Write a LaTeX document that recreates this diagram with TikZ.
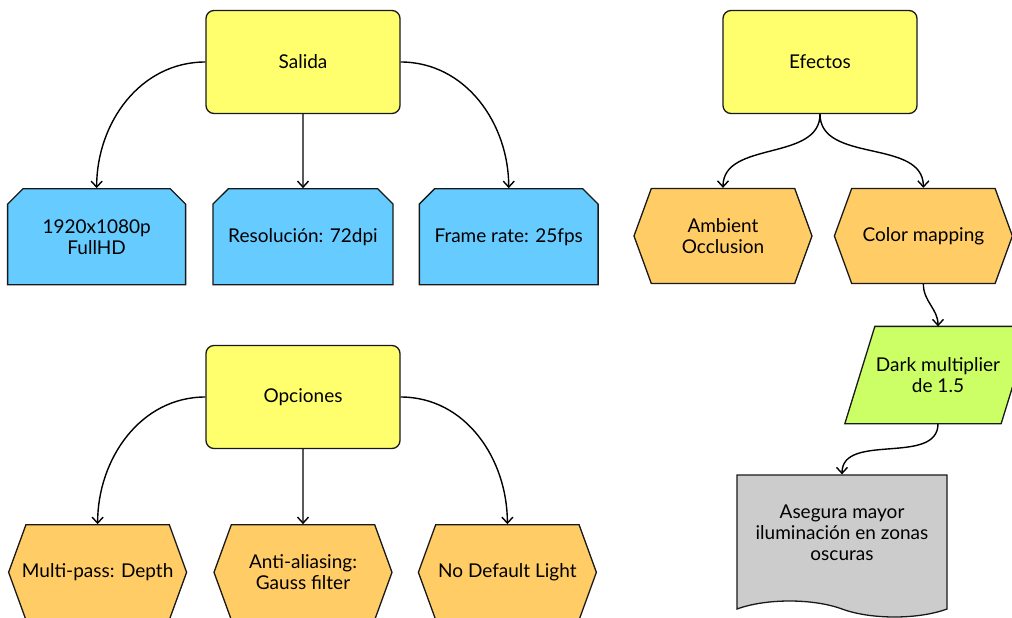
\documentclass[tikz,border=0pt]{standalone}
\usepackage{fontspec}
\setmainfont{Lato}
\usetikzlibrary{positioning,backgrounds,shapes.misc,shapes.symbols,arrows.meta}

\definecolor{rootyellow}{RGB}{255,255,110}
\definecolor{outblue}{RGB}{102,204,255}
\definecolor{optorange}{RGB}{255,204,102}
\definecolor{fxgreen}{RGB}{204,255,102}
\definecolor{docgray}{RGB}{204,204,204}

\begin{document}
\begin{tikzpicture}[x=1pt,y=1pt,->,>={Straight Barb[length=6pt,width=11pt,line width=1.4pt]},line width=1.4pt,
      every node/.style={font=\fontsize{19}{21}\selectfont,align=center,draw=black!90,line width=1.3pt},
      root node/.style={rectangle,rounded corners=8pt,fill=rootyellow,minimum width=194pt,minimum height=103pt},
      out node/.style={chamfered rectangle,chamfered rectangle corners={north west,north east},
        chamfered rectangle xsep=12pt,fill=outblue,minimum width=178pt,minimum height=96pt},
      opt node/.style={signal,signal to=west and east,signal pointer angle=140,inner xsep=-4pt,
        fill=optorange,minimum width=178pt,minimum height=95pt},
      fx node/.style={rectangle,draw=none,minimum width=155pt,minimum height=96pt},
      doc node/.style={tape,tape bend top=none,tape bend bottom=out and in,tape bend height=16pt,
        text depth=10pt,fill=docgray,minimum width=210pt,minimum height=142pt}]
      \useasboundingbox (0,0) rectangle (1012,-618);

      \node[root node] (salida) at (303,-62) {Salida};
      \node[out node] (resol) [below=74pt of salida] {Resolución: 72dpi};
      \node[out node] (fullhd) [left=26pt of resol] {1920x1080p\\FullHD};
      \node[out node] (fps) [right=25pt of resol] {Frame rate: 25fps};

      \node[root node] (opciones) at (303,-397) {Opciones};
      \node[opt node] (gauss) [below=75pt of opciones] {Anti-aliasing:\\Gauss filter};
      \node[opt node] (depth) [left=26pt of gauss] {Multi-pass: Depth};
      \node[opt node] (light) [right=25pt of gauss] {No Default Light};

      \node[root node] (efectos) at (820,-62) {Efectos};
      \node[opt node] (ambient) at (723,-236) {Ambient\\Occlusion};
      \node[opt node] (colormap) [right=21pt of ambient] {Color mapping};
      \node[fx node] (darkmult) at (938,-375) {Dark multiplier\\de 1.5};
      \node[doc node] (asegura) at (842,-538) {Asegura mayor\\iluminación en zonas\\oscuras};

      % parallelogram behind the text
      \begin{scope}[on background layer]
        \filldraw[-,fill=fxgreen,draw=black!90,line width=1.3pt] ([xshift=-15pt]darkmult.south west) -- ([xshift=15pt]darkmult.north west)
          -- ([xshift=15pt]darkmult.north east) -- ([xshift=-15pt]darkmult.south east) -- cycle;
      \end{scope}

      \path
        (salida.west) edge[out=180,in=90] (fullhd.north)
        (salida) edge (resol)
        (salida.east) edge[out=0,in=90] (fps.north)
        (opciones.west) edge[out=180,in=90] (depth.north)
        (opciones) edge (gauss)
        (opciones.east) edge[out=0,in=90] (light.north)
        (efectos.south) edge[out=-90,in=90] (ambient.north)
        (efectos.south) edge[out=-90,in=90] (colormap.north)
        (colormap.south) edge[out=-90,in=90] (darkmult.north)
        (darkmult.south) edge[out=-90,in=90] (asegura.north);
    \end{tikzpicture}
\end{document}
